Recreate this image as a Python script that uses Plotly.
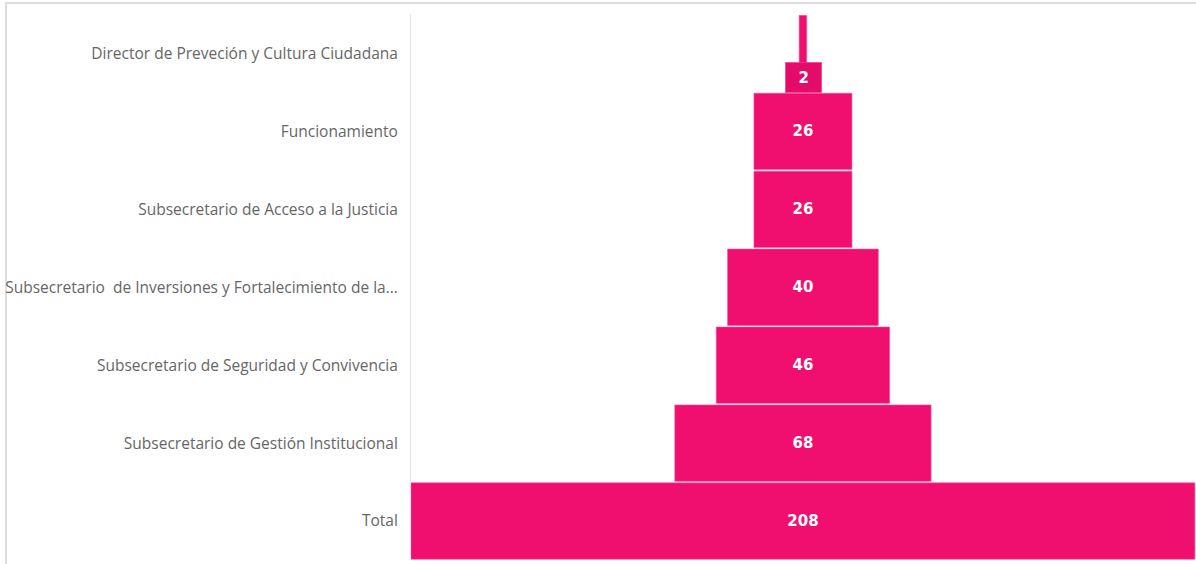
import plotly.graph_objects as go

categories = [
    "Director de Preveción y Cultura Ciudadana",
    "Funcionamiento",
    "Subsecretario de Acceso a la Justicia",
    "Subsecretario  de Inversiones y Fortalecimiento de la...",
    "Subsecretario de Seguridad y Convivencia",
    "Subsecretario de Gestión Institucional",
    "Total",
]
values = [2, 26, 26, 40, 46, 68, 208]

BAR = "#F00F6E"
small_label_idx = 0
texts = ["" if i == small_label_idx else str(v) for i, v in enumerate(values)]

NUMFONT = dict(family="DejaVu Sans", size=15, color="white", weight="bold")

fig = go.Figure(go.Funnel(
    y=categories,
    x=values,
    text=texts,
    texttemplate="%{text}",
    textposition="inside",
    textfont=NUMFONT,
    insidetextanchor="middle",
    marker=dict(color=BAR, line=dict(color="#f7509a", width=0.6)),
    connector=dict(visible=False),
    hoverinfo="y+x",
))

fig.add_annotation(
    x=0, y=categories[small_label_idx], xref="x", yref="y",
    text="<b>%d</b>" % values[small_label_idx],
    showarrow=False, yshift=-24, xshift=1,
    bgcolor="#E30D69", bordercolor="#f7509a", borderwidth=0.6,
    width=30, height=24, borderpad=3,
    font=NUMFONT,
)

# outer frame (left & top visible)
fig.add_shape(type="rect", xref="paper", yref="paper",
              x0=-0.516, x1=1.05, y0=-0.2, y1=1.0201,
              line=dict(color="#dcdcdc", width=2), layer="below")

maxv = max(values)
fig.update_layout(
    width=1196, height=564,
    margin=dict(l=411, r=0, t=14, b=4),
    paper_bgcolor="white", plot_bgcolor="white",
    funnelgap=0.02,
    showlegend=False,
    font=dict(family="Open Sans", color="#666666", size=15.5),
    xaxis=dict(visible=False, range=[-maxv / 2, maxv / 2 + 0.3]),
    yaxis=dict(showline=True, linecolor="#e3e3e3", linewidth=1,
               ticks="", ticklen=0, showgrid=False, ticklabelstandoff=9,
               tickfont=dict(family="Open Sans", size=15.5, color="#666666")),
)

fig.write_html("out.html", config={"displayModeBar": False},
               post_script="document.body.style.margin='0';")
